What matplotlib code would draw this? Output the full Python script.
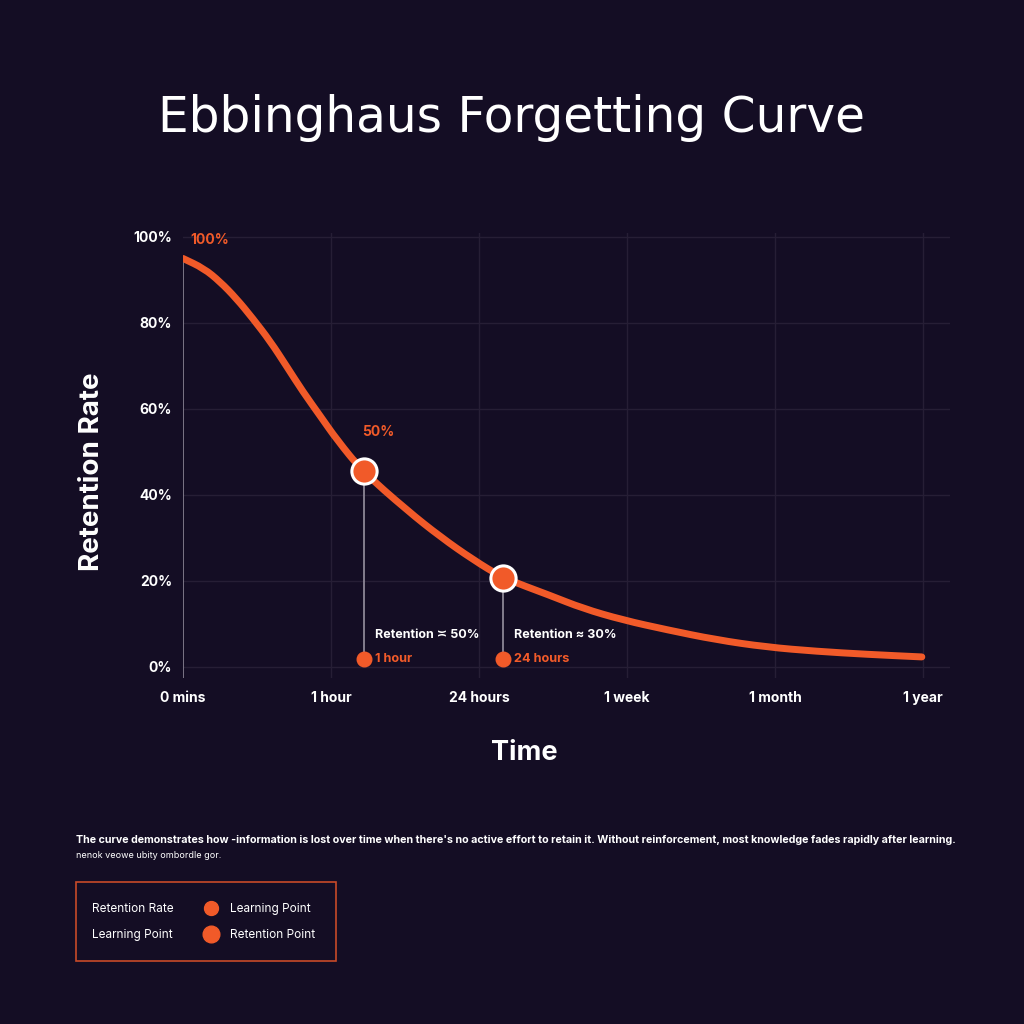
import matplotlib
matplotlib.use("Agg")
import matplotlib.pyplot as plt
from matplotlib.patches import Rectangle, PathPatch
from matplotlib.lines import Line2D
from matplotlib.path import Path

# ---- data ----
tick_labels = ["0 mins", "1 hour", "24 hours", "1 week", "1 month", "1 year"]
tick_pos = [0, 1, 2, 3, 4, 5]
y_ticks = [0, 20, 40, 60, 80, 100]
y_tick_labels = ["0%", "20%", "40%", "60%", "80%", "100%"]

curve_x = [0.0, 0.14, 0.25, 0.36, 0.47, 0.59, 0.70, 0.81, 0.93, 1.04, 1.21,
           1.51, 1.74, 1.96, 2.16, 2.48, 2.70, 2.97, 3.27, 3.60, 3.94, 4.28, 4.62, 4.99]
curve_y = [95.0, 92.7, 89.6, 85.7, 81.1, 75.7, 69.9, 64.0, 58.2, 52.8, 45.6,
           36.5, 30.2, 24.9, 20.7, 16.6, 13.6, 10.9, 8.6, 6.3, 4.6, 3.6, 2.9, 2.3]

key_x = [1.22, 2.16]
key_y = [45.6, 20.7]
key_base_y = 1.9
key_time = ["1 hour", "24 hours"]
key_ret = ["Retention \u224d 50%", "Retention \u2248 30%"]
top_label = "50%"
start_label = "100%"

BG = "#140d24"
ORANGE = "#f15a29"
GRID = "#261e35"
GREY = "#8c8696"
FONT = ["Inter", "DejaVu Sans"]

plt.rcParams["font.family"] = FONT

fig = plt.figure(figsize=(10.24, 10.24), dpi=100, facecolor=BG)
ax = fig.add_axes([0.1787, 0.3379, 0.749, 0.4349])
ax.set_facecolor(BG)
ax.set_xlim(0, 5.18)
ax.set_ylim(-2.6, 101)
for s in ax.spines.values():
    s.set_visible(False)

# grid
for yv in y_ticks:
    ax.plot([0, 5.18], [yv, yv], color=GRID, lw=1, zorder=0)
for xv in tick_pos[1:]:
    ax.plot([xv, xv], [-2.6, 101], color=GRID, lw=1, zorder=0)

# left axis line from curve start
ax.plot([curve_x[0], curve_x[0]], [-2.6, curve_y[0]], color=GREY, lw=1.2, zorder=1)

ax.set_xticks(tick_pos)
ax.set_xticklabels(tick_labels, color="white", fontsize=10, fontweight="bold")
ax.set_yticks(y_ticks)
ax.set_yticklabels(y_tick_labels, color="white", fontsize=10, fontweight="bold")
ax.tick_params(axis="x", length=0, pad=9.5)
ax.tick_params(axis="y", length=0, pad=8)

# smooth curve through the read points (quadratic Bezier via midpoints)
pts = list(zip(curve_x, curve_y))
verts = [pts[0]]
codes = [Path.MOVETO]
mid = lambda a, b: ((a[0] + b[0]) / 2, (a[1] + b[1]) / 2)
verts.append(mid(pts[0], pts[1]))
codes.append(Path.LINETO)
for i in range(1, len(pts) - 1):
    verts += [pts[i], mid(pts[i], pts[i + 1])]
    codes += [Path.CURVE3, Path.CURVE3]
verts.append(pts[-1])
codes.append(Path.LINETO)
ax.add_patch(PathPatch(Path(verts, codes), facecolor="none", edgecolor=ORANGE,
                       lw=5, capstyle="round", joinstyle="round", zorder=3))

# key points
for kx, ky, kt, kr in zip(key_x, key_y, key_time, key_ret):
    ax.plot([kx, kx], [key_base_y, ky], color=GREY, lw=1.3, zorder=2)
    ax.scatter([kx], [ky], s=330, color=ORANGE, edgecolors="white",
               linewidths=2.2, zorder=5)
    ax.scatter([kx], [key_base_y], s=110, color=ORANGE, zorder=5)
    ax.annotate(kt, (kx, key_base_y), xytext=(8, 0), textcoords="offset points",
                color=ORANGE, fontsize=9.2, fontweight="bold", va="center", ha="left")
    ax.annotate(kr, (kx, key_base_y), xytext=(8, 17), textcoords="offset points",
                color="white", fontsize=9, fontweight="bold", va="center", ha="left")

ax.annotate(top_label, (key_x[0], key_y[0]), xytext=(-1, 28), textcoords="offset points",
            color=ORANGE, fontsize=10, fontweight="bold", va="center", ha="left")
ax.annotate(start_label, (curve_x[0], curve_y[0]), xytext=(5, 13), textcoords="offset points",
            color=ORANGE, fontsize=10, fontweight="bold", va="center", ha="left")

fig.text(524 / 1024, 1 - 753 / 1024, "Time", color="white", fontsize=19.5,
         fontweight="bold", ha="center", va="center")
fig.text(92 / 1024, 1 - 472 / 1024, "Retention Rate", color="white", fontsize=20,
         fontweight="bold", ha="center", va="center", rotation=90)

fig.text(0.5, 1 - 118 / 1024, "Ebbinghaus Forgetting Curve", color="white",
         fontsize=35, ha="center", va="center", fontweight="normal",
         family=["DejaVu Sans"])

fig.text(76 / 1024, 1 - 840 / 1024,
         "The curve demonstrates how -information is lost over time when there's no active effort to retain it. "
         "Without reinforcement, most knowledge fades rapidly after learning.",
         color="white", fontsize=7.7, fontweight="bold", va="center", ha="left")
fig.text(76 / 1024, 1 - 855 / 1024, "nenok veowe ubity ombordle gor.",
         color="white", fontsize=6.5, va="center", ha="left")

# legend box
fig.patches.append(Rectangle((76 / 1024, 1 - 961 / 1024), 260 / 1024, 79 / 1024,
                             transform=fig.transFigure, facecolor="none",
                             edgecolor="#c84a28", lw=1.2))
leg_left = ["Retention Rate", "Learning Point"]
leg_right = ["Learning Point", "Retention Point"]
leg_y = [909, 935]
leg_size = [10, 12]
for l, r, yy, ms in zip(leg_left, leg_right, leg_y, leg_size):
    fig.text(92 / 1024, 1 - yy / 1024, l, color="white", fontsize=8.5, va="center", ha="left")
    fig.add_artist(Line2D([211 / 1024], [1 - (yy - 1) / 1024], marker="o", markersize=ms,
                          color=ORANGE, transform=fig.transFigure, linestyle="none"))
    fig.text(230 / 1024, 1 - yy / 1024, r, color="white", fontsize=8.5, va="center", ha="left")

fig.savefig("out.png", dpi=100, facecolor=BG)
